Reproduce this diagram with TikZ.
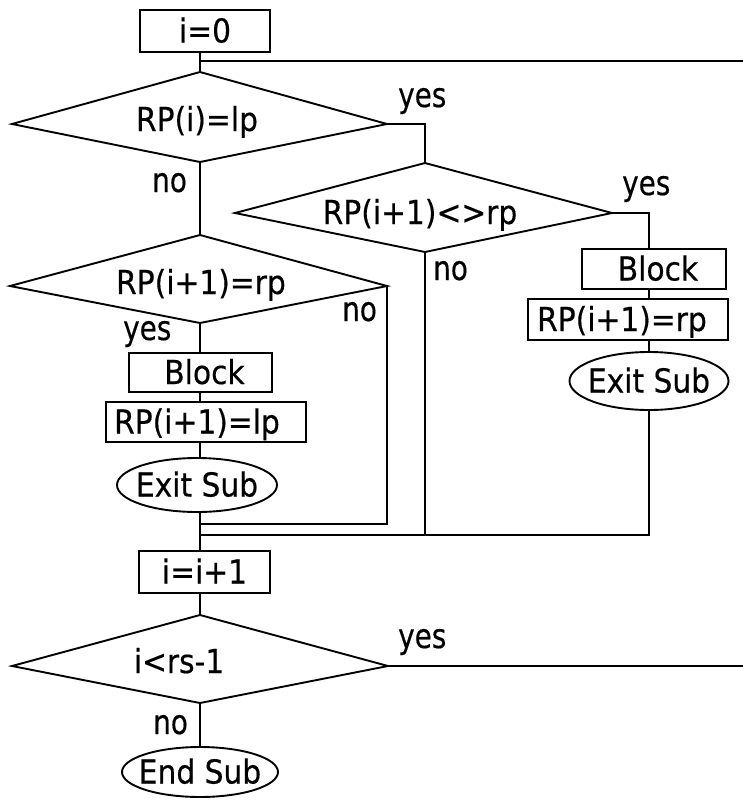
\documentclass[tikz,border=0pt]{standalone}
\usepackage{fontspec}
\setmainfont{DejaVu Sans}[FakeStretch=0.9, FakeBold=0.4]
\newfontfamily\labfont{DejaVu Sans}[FakeStretch=0.82, FakeBold=0.4]
\usetikzlibrary{shapes.geometric}
\begin{document}
\begin{tikzpicture}[x=1pt,y=-1pt,
  line/.style={line width=1.9pt, line join=miter},
  every node/.style={font=\fontsize{33}{33}\selectfont},
  proc/.style={draw, line width=1.9pt, rectangle, inner sep=0pt, text height=23pt, text depth=0pt},
  term/.style={draw, line width=1.9pt, ellipse, inner sep=0pt, text height=23pt, text depth=0pt},
  lab/.style={font=\labfont\fontsize{34}{34}\selectfont, anchor=base west, inner sep=0pt},
  dtext/.style={anchor=base, inner sep=0pt}
]
\useasboundingbox (0,0) rectangle (743,801);

% process boxes and terminals
\node[proc, minimum width=130pt, minimum height=42pt] (i0) at (205,31) {i=0};
\node[proc, minimum width=143pt, minimum height=39pt] (bL) at (200.5,372.5) {Block\hspace*{-8pt}};
\node[proc, minimum width=200pt, minimum height=40pt] (rL) at (206,422) {\hspace*{-18pt}RP(i+1)=lp};
\node[term, minimum width=160pt, minimum height=54pt] (exL) at (197,485) {\makebox[0pt]{Exit Sub}};
\node[proc, minimum width=144pt, minimum height=40pt] (bR) at (654,269) {Block\hspace*{-8pt}};
\node[proc, minimum width=200pt, minimum height=41pt] (rR) at (628,319.5) {\hspace*{-12pt}RP(i+1)=rp};
\node[term, minimum width=159pt, minimum height=58pt] (exR) at (649,381) {\makebox[0pt]{Exit Sub}};
\node[proc, minimum width=131pt, minimum height=42pt] (inc) at (204.5,572) {i=i+1};
\node[term, minimum width=156pt, minimum height=50pt] (endS) at (200,772) {\makebox[0pt]{End Sub}};

% decisions
\coordinate (d1t) at (200,72);  \coordinate (d1r) at (387,124);
\coordinate (d1b) at (200,162); \coordinate (d1l) at (12,124);
\draw[line] (d1t) -- (d1r) -- (d1b) -- (d1l) -- cycle;
\node[dtext] (d1x) at (197,131) {RP(i)=lp};

\coordinate (d2t) at (425,163); \coordinate (d2r) at (612,213);
\coordinate (d2b) at (425,252); \coordinate (d2l) at (235,213);
\draw[line] (d2t) -- (d2r) -- (d2b) -- (d2l) -- cycle;
\node[dtext] (d2x) at (420,224) {RP(i+1)<>rp};

\coordinate (d3t) at (200,235); \coordinate (d3r) at (387,286);
\coordinate (d3b) at (200,323); \coordinate (d3l) at (10,286);
\draw[line] (d3t) -- (d3r) -- (d3b) -- (d3l) -- cycle;
\node[dtext] (d3x) at (201,294) {RP(i+1)=rp};

\coordinate (d4t) at (200,615); \coordinate (d4r) at (388,666);
\coordinate (d4b) at (200,703); \coordinate (d4l) at (12,666);
\draw[line] (d4t) -- (d4r) -- (d4b) -- (d4l) -- cycle;
\node[dtext] (d4x) at (179,673) {i<rs-1};

% labels
\node[lab] (yes1) at (398,107) {yes};
\node[lab] (no1) at (152,192) {no};
\node[lab] (yes2) at (622,195) {yes};
\node[lab] (no2) at (433,280) {no};
\node[lab] (no3) at (342,321) {no};
\node[lab] (yes3) at (123,340) {yes};
\node[lab] (yes4) at (398,648) {yes};
\node[lab] (no4) at (153,734) {no};

% connectors
\coordinate (rtop) at (743,61);
\coordinate (rbot) at (743,666);
\coordinate (j1) at (200,524);
\coordinate (j2) at (200,535);
\draw[line] (i0.south -| d1t) -- (d1t);
\draw[line] (d1t |- rtop) -- (rtop);
\draw[line] (d1r) -| (d2t);
\draw[line] (d1b) -- (d3t);
\draw[line] (d2r) -| (bR.north -| exR);
\draw[line] (bR.south -| exR) -- (rR.north -| exR);
\draw[line] (rR.south -| exR) -- (exR.north);
\draw[line] (exR.south) |- (j2);
\draw[line] (d2b) -- (d2b |- j2);
\draw[line] (d3r) |- (j1);
\draw[line] (d3b) -- (bL.north -| d3b);
\draw[line] (bL.south -| d3b) -- (rL.north -| d3b);
\draw[line] (rL.south -| d3b) -- (exL.north -| d3b);
\draw[line] (exL.south -| d3b) -- (inc.north -| d3b);
\draw[line] (inc.south -| d4t) -- (d4t);
\draw[line] (d4r) -- (rbot);
\draw[line] (d4b) -- (endS.north);
\end{tikzpicture}
\end{document}
